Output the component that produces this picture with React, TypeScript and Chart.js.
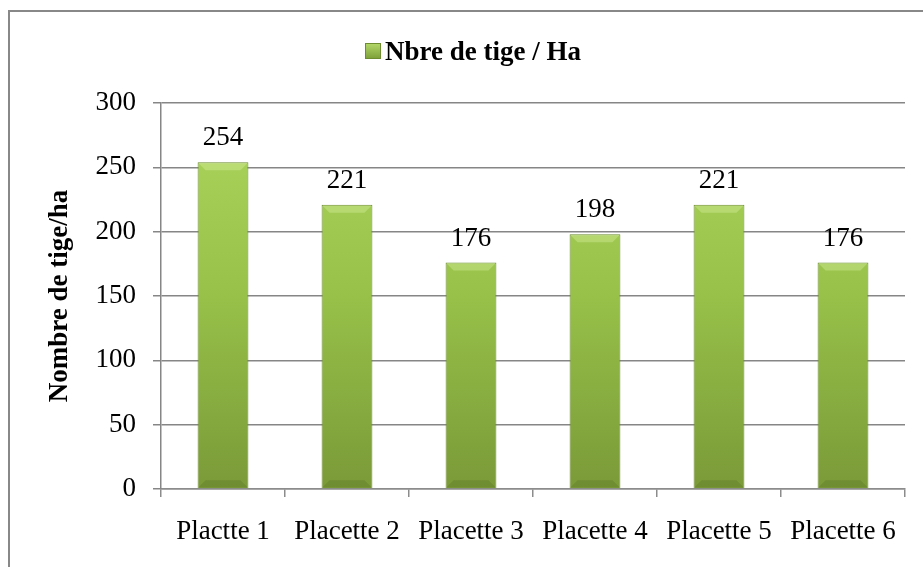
import React, { useEffect, useRef } from "react";
import { Chart, registerables } from "chart.js";

Chart.register(...registerables);

const categories = ["Plactte 1", "Placette 2", "Placette 3", "Placette 4", "Placette 5", "Placette 6"];
const seriesName = "Nbre de tige / Ha";
const values = [254, 221, 176, 198, 221, 176];
const yTitle = "Nombre de tige/ha";
const yMin = 0;
const yMax = 300;
const yStep = 50;

const FONT = "'Liberation Serif', 'Times New Roman', serif";

export default function App() {
  const ref = useRef<HTMLCanvasElement | null>(null);
  useEffect(() => {
    const canvas = ref.current!;
    const frame = {
      id: "frame",
      beforeDraw(chart: any) {
        const ctx = chart.ctx;
        ctx.save();
        ctx.fillStyle = "#ffffff";
        ctx.fillRect(0, 0, chart.width, chart.height);
        ctx.strokeStyle = "#888888";
        ctx.lineWidth = 2;
        ctx.beginPath();
        ctx.moveTo(9, chart.height);
        ctx.lineTo(9, 11);
        ctx.lineTo(chart.width, 11);
        ctx.stroke();
        ctx.restore();
      },
    };
    const extras = {
      id: "extras",
      afterDatasetsDraw(chart: any) {
        const ctx = chart.ctx;
        const meta = chart.getDatasetMeta(0);
        ctx.save();
        // bevels
        meta.data.forEach((bar: any) => {
          const w = bar.width;
          const l = bar.x - w / 2;
          const r = bar.x + w / 2;
          const t = bar.y;
          const b = bar.base;
          const bv = 8;
          ctx.fillStyle = "rgba(210,235,150,0.45)";
          ctx.beginPath();
          ctx.moveTo(l + 1, t + 1);
          ctx.lineTo(r - 1, t + 1);
          ctx.lineTo(r - bv, t + bv);
          ctx.lineTo(l + bv, t + bv);
          ctx.closePath();
          ctx.fill();
          ctx.fillStyle = "rgba(60,80,20,0.18)";
          ctx.beginPath();
          ctx.moveTo(l + 1, b - 1);
          ctx.lineTo(r - 1, b - 1);
          ctx.lineTo(r - bv, b - bv);
          ctx.lineTo(l + bv, b - bv);
          ctx.closePath();
          ctx.fill();
        });
        // data labels
        ctx.fillStyle = "#000";
        ctx.font = `27px ${FONT}`;
        ctx.textAlign = "center";
        ctx.textBaseline = "alphabetic";
        meta.data.forEach((bar: any, i: number) => {
          ctx.fillText(String(values[i]), bar.x, bar.y - 17);
        });
        // legend
        const label = seriesName;
        ctx.font = `bold 27px ${FONT}`;
        ctx.textAlign = "left";
        const tw = ctx.measureText(label).width;
        const box = 16;
        const gap = 4;
        const total = box + gap + tw;
        const cx = 473;
        const x0 = cx - total / 2;
        const g = ctx.createLinearGradient(0, 43, 0, 59);
        g.addColorStop(0, "#b5da6a");
        g.addColorStop(1, "#7c9e38");
        ctx.fillStyle = g;
        ctx.fillRect(x0, 43, box, box);
        ctx.strokeStyle = "#6e8c30";
        ctx.lineWidth = 1;
        ctx.strokeRect(x0 + 0.5, 43.5, box - 1, box - 1);
        ctx.fillStyle = "#000";
        ctx.fillText(label, x0 + box + gap, 60);
        ctx.restore();
      },
    };
    const chart = new Chart(canvas, {
      type: "bar",
      data: {
        labels: categories,
        datasets: [
          {
            label: seriesName,
            data: values,
            backgroundColor: (c: any) => {
              const ch = c.chart;
              const area = ch.chartArea;
              if (!area) return "#92bc45";
              const g = ch.ctx.createLinearGradient(0, area.top, 0, area.bottom);
              g.addColorStop(0, "#add65d");
              g.addColorStop(0.5, "#97c149");
              g.addColorStop(1, "#7a9a38");
              return g;
            },
            borderColor: "#6a8a2c",
            borderWidth: 1,
            barPercentage: 0.41,
            categoryPercentage: 1,
          },
        ],
      },
      options: {
        responsive: false,
        animation: false,
        layout: { padding: { top: 103, right: 18, bottom: 0, left: 0 } },
        plugins: {
          legend: { display: false },
          tooltip: { enabled: false },
        },
        scales: {
          x: {
            grid: { drawOnChartArea: false, offset: true, tickLength: 8, color: "#8c8c8c", lineWidth: 1.5 },
            border: { color: "#8c8c8c", width: 1.5 },
            ticks: { color: "#000", font: { family: FONT, size: 27 }, padding: 19, maxRotation: 0, autoSkip: false },
            afterFit: (s: any) => {
              s.height = 78;
            },
          },
          y: {
            min: yMin,
            max: yMax,
            ticks: { stepSize: yStep, color: "#000", font: { family: FONT, size: 27 }, padding: 17 },
            grid: { color: "#868686", lineWidth: 1.5, tickLength: 8 },
            border: { color: "#868686", width: 1.5 },
            title: {
              display: true,
              text: yTitle,
              color: "#000",
              font: { family: FONT, size: 27, weight: "bold" },
              padding: { top: 44, bottom: 0 },
            },
            afterFit: (s: any) => {
              s.width = 161;
            },
          },
        },
      },
      plugins: [frame, extras],
    } as any);
    return () => chart.destroy();
  }, []);
  return (
    <div style={{ position: "absolute", left: 0, top: 0, width: 923, height: 567 }}>
      <canvas ref={ref} width={923} height={567} style={{ display: "block" }} />
    </div>
  );
}
